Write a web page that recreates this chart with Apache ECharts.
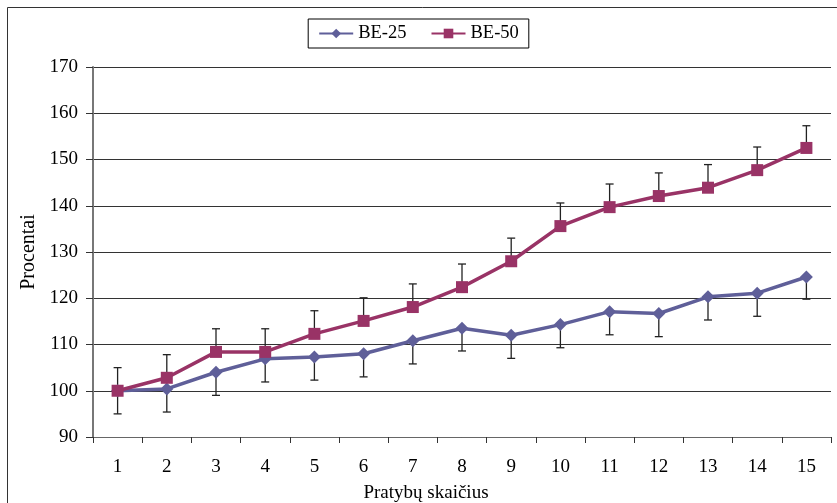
<!DOCTYPE html>
<html><head><meta charset="utf-8">
<script src="https://cdn.jsdelivr.net/npm/echarts@6/dist/echarts.min.js"></script>
<style>html,body{margin:0;padding:0;background:#fff}#c{width:837px;height:503px}</style>
</head><body><div id="c"></div>
<script>
const categories = ['1','2','3','4','5','6','7','8','9','10','11','12','13','14','15'];
const be25 = [100, 100.4, 104, 106.9, 107.3, 108, 110.8, 113.5, 112, 114.3, 117.1, 116.7, 120.3, 121.1, 124.6];
const be50 = [100, 102.8, 108.4, 108.4, 112.3, 115.1, 118.1, 122.4, 128, 135.6, 139.7, 142.1, 143.9, 147.7, 152.5];
const be25Err = [5, 5, 5, 5, 5, 5, 5, 4.9, 5, 5, 5, 5, 5, 5, 4.8];
const be50Err = [5, 5, 5, 5, 5, 5, 5, 5, 5, 5, 5, 5, 5, 5, 4.8];
const yTicks = {min: 90, max: 170, interval: 10};

const font = 'Liberation Serif';
const errData = [];
be25.forEach((v, i) => errData.push([i, v, -be25Err[i]]));
be50.forEach((v, i) => errData.push([i, v, be50Err[i]]));

const chart = echarts.init(document.getElementById('c'));
chart.setOption({
  animation: false,
  textStyle: {fontFamily: font},
  graphic: [{type: 'rect', shape: {x: 7.5, y: 7.5, width: 850, height: 520}, style: {fill: 'none', stroke: '#333', lineWidth: 1}, silent: true}],
  grid: {left: 93, right: 6, top: 67, bottom: 66, containLabel: false, outerBoundsMode: 'none'},
  legend: {
    top: 19, left: 'center', itemGap: 24, itemWidth: 34, itemHeight: 12,
    borderColor: '#000', borderWidth: 1, padding: [5, 10, 5, 10],
    textStyle: {fontFamily: font, fontSize: 18.5, color: '#000'},
    data: ['BE-25', 'BE-50']
  },
  xAxis: {
    type: 'category', data: categories, boundaryGap: true,
    name: 'Pratybų skaičius', nameLocation: 'middle', nameGap: 47,
    nameTextStyle: {fontFamily: font, fontSize: 19, color: '#000', padding: [0, 72, 0, 0]},
    axisLine: {lineStyle: {color: '#666', width: 1}},
    axisTick: {show: true, length: 6, lineStyle: {color: '#333'}},
    axisLabel: {fontFamily: font, fontSize: 19, color: '#000', margin: 21}
  },
  yAxis: {
    type: 'value', min: yTicks.min, max: yTicks.max, interval: yTicks.interval,
    name: 'Procentai', nameLocation: 'middle', nameGap: 54,
    nameTextStyle: {fontFamily: font, fontSize: 20, color: '#000'},
    axisLine: {show: true, lineStyle: {color: '#777', width: 2}},
    axisTick: {show: true, length: 7, lineStyle: {color: '#333'}},
    axisLabel: {fontFamily: font, fontSize: 19, color: '#000', margin: 15},
    splitLine: {lineStyle: {color: '#333', width: 1}}
  },
  series: [
    {
      type: 'custom', name: 'err', z: 1, silent: true,
      renderItem: function (params, api) {
        const i = api.value(0), v = api.value(1), e = api.value(2);
        const p0 = api.coord([i, v]);
        const p1 = api.coord([i, v + e]);
        const w = 4;
        const st = {stroke: '#222', lineWidth: 1.3};
        return {type: 'group', children: [
          {type: 'line', shape: {x1: p0[0], y1: p0[1], x2: p1[0], y2: p1[1]}, style: st},
          {type: 'line', shape: {x1: p1[0] - w, y1: p1[1], x2: p1[0] + w, y2: p1[1]}, style: st}
        ]};
      },
      encode: {x: 0, y: 1},
      data: errData
    },
    {
      name: 'BE-25', type: 'line', data: be25, z: 3,
      symbol: 'diamond', symbolSize: 13,
      itemStyle: {color: '#5f5f99'},
      lineStyle: {color: '#5f5f99', width: 3.5}
    },
    {
      name: 'BE-50', type: 'line', data: be50, z: 4,
      symbol: 'rect', symbolSize: 12,
      itemStyle: {color: '#993366'},
      lineStyle: {color: '#993366', width: 3.5}
    }
  ]
});
</script></body></html>
